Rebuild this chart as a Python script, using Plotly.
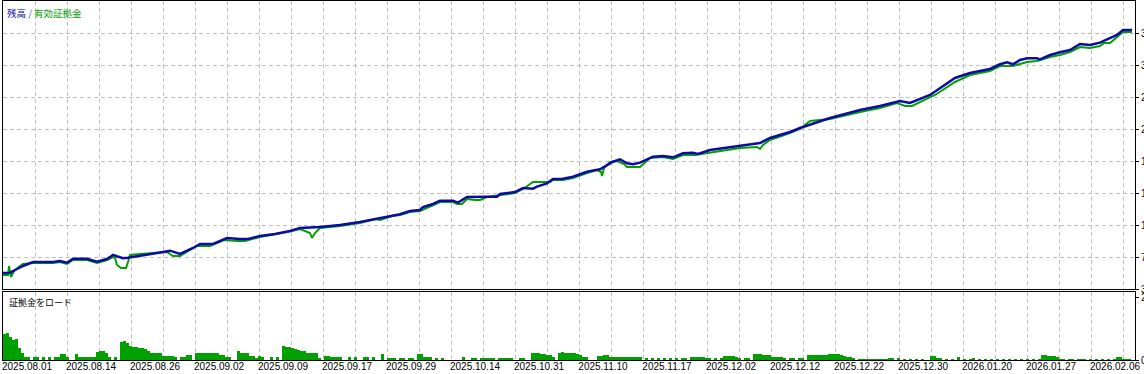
import plotly.graph_objects as go

# ---------------- data ----------------
date_labels = ["2025.08.01", "2025.08.14", "2025.08.26", "2025.09.02", "2025.09.09",
               "2025.09.17", "2025.09.29", "2025.10.14", "2025.10.31", "2025.11.10",
               "2025.11.17", "2025.12.02", "2025.12.12", "2025.12.22", "2025.12.30",
               "2026.01.20", "2026.01.27", "2026.02.06"]

balance_idx = [0, 7, 14, 20, 30, 40, 50, 57, 64, 70, 84, 94, 104, 110, 120, 125, 137, 154, 167, 177,
               190, 197, 210, 224, 237, 245, 257, 272, 287, 297, 317, 337, 357, 377, 392, 397, 407, 417,
               420, 430, 437, 450, 455, 464, 484, 494, 497, 512, 520, 530, 534, 544, 550, 560, 570, 584,
               597, 604, 610, 617, 624, 630, 637, 650, 660, 670, 680, 690, 695, 707, 737, 757, 767, 787,
               797, 827, 857, 877, 897, 907, 927, 952, 967, 987, 997, 1004, 1010, 1017, 1024, 1034, 1037,
               1047, 1057, 1067, 1077, 1087, 1097, 1104, 1114, 1120, 1129]
balance = [5000, 5040, 5500, 5875, 6375, 6375, 6375, 6500, 6290, 6790, 6790, 6410, 6750, 7250, 6840, 6910,
           7125, 7500, 7790, 7375, 8125, 8625, 8625, 9375, 9250, 9250, 9625, 9875, 10250, 10625, 10750,
           11000, 11375, 11875, 12250, 12340, 12750, 12875, 13250, 13625, 14040, 14040, 13790, 14500,
           14540, 14540, 14875, 15125, 15625, 15540, 15790, 16210, 16750, 16790, 17040, 17660, 17960,
           18500, 18910, 19210, 18710, 18590, 18790, 19540, 19625, 19460, 19960, 20040, 19875, 20375,
           20875, 21250, 21875, 22625, 23125, 24375, 25375, 25875, 26500, 26250, 27250, 29375, 30000,
           30500, 31090, 31340, 31090, 31625, 31840, 31840, 31710, 32250, 32590, 32875, 33625, 33500,
           33790, 34210, 34750, 35375, 35375]

equity_idx = [0, 5, 6, 8, 11, 14, 17, 20, 30, 50, 57, 64, 70, 84, 94, 104, 110, 112, 114, 118, 123, 125,
              127, 137, 151, 164, 170, 177, 187, 194, 207, 221, 234, 242, 257, 269, 284, 297, 307, 309,
              312, 317, 337, 357, 372, 377, 389, 397, 407, 417, 430, 437, 450, 454, 459, 464, 472, 477,
              484, 497, 512, 520, 530, 547, 550, 560, 570, 584, 594, 598, 599, 601, 607, 614, 621, 624,
              637, 647, 660, 670, 680, 692, 737, 754, 757, 760, 767, 787, 797, 807, 827, 857, 877, 894,
              902, 909, 927, 932, 952, 967, 987, 997, 1010, 1024, 1034, 1047, 1057, 1067, 1077, 1087,
              1097, 1101, 1107, 1114, 1120, 1129]
equity = [4750, 4750, 5875, 4500, 5250, 5625, 5875, 6125, 6250, 6250, 6375, 6125, 6625, 6625, 6250, 6625,
          7000, 6875, 6000, 5625, 5625, 6375, 7250, 7375, 7500, 7625, 7125, 7125, 7875, 8375, 8375, 9125,
          9000, 9000, 9500, 9750, 10125, 10500, 10000, 9375, 10000, 10625, 10875, 11250, 11750, 11625,
          12125, 12250, 12625, 12750, 13500, 13875, 13875, 13625, 13625, 14250, 14125, 14125, 14500,
          14750, 15000, 15500, 16375, 16375, 16625, 16625, 16875, 17500, 17875, 17625, 17125, 18125,
          18875, 19000, 18625, 18250, 18250, 19375, 19500, 19250, 19750, 19750, 20625, 20750, 20500,
          21000, 21625, 22500, 23000, 24000, 24250, 25125, 25625, 26250, 25875, 25875, 27000, 27250,
          28875, 29750, 30250, 30875, 30875, 31375, 31500, 32000, 32250, 32625, 33250, 33125, 33375,
          33750, 33750, 34500, 35125, 35125]

# margin load (%) per time slot
margin_load = [
    8.7, 9.0, 7.7, 6.7, 7.0, 4.0, 2.3, 1.0, 1.0, 0,
    1.0, 1.0, 0, 1.0, 0, 1.0, 0, 1.0, 1.0, 2.0,
    2.0, 1.0, 0, 0, 2.0, 1.0, 1.0, 1.0, 1.0, 1.0,
    1.0, 2.7, 3.0, 3.0, 2.3, 1.0, 0, 1.0, 0, 6.0,
    6.3, 5.7, 4.7, 4.3, 4.3, 4.0, 4.0, 3.7, 3.0, 2.3,
    2.3, 2.3, 2.3, 1.3, 1.3, 1.3, 1.3, 1.0, 0, 1.0,
    1.0, 1.7, 1.7, 0, 2.3, 2.3, 2.3, 2.3, 2.3, 2.3,
    2.3, 2.3, 1.7, 1.7, 1.0, 1.0, 0, 0, 3.0, 2.3,
    2.3, 2.3, 1.3, 1.3, 0.7, 1.3, 1.0, 0, 0, 1.0,
    0, 1.0, 0, 4.7, 4.3, 4.3, 4.0, 3.7, 3.3, 3.0,
    3.0, 2.3, 2.3, 2.3, 2.3, 0.7, 0, 1.3, 1.3, 1.0,
    1.0, 1.0, 1.0, 0, 0, 1.0, 0, 1.0, 0, 0,
    1.0, 1.0, 0, 1.0, 0, 0, 2.0, 0, 0.7, 0.7,
    0.7, 0, 0.7, 0.7, 0, 0.7, 0.7, 0, 2.0, 2.0,
    1.0, 1.0, 1.0, 0, 0.7, 0, 0.7, 0, 0, 0,
    0, 0, 0, 1.0, 0, 0, 0.7, 0.7, 0, 0.7,
    0.7, 0.7, 0.7, 0.7, 0, 0.7, 0.7, 0.7, 0.7, 0.7,
    0, 0, 0.7, 0.7, 0, 0, 2.3, 2.3, 2.3, 2.0,
    2.0, 1.7, 1.7, 1.0, 0, 2.3, 2.7, 2.3, 2.3, 2.3,
    2.3, 2.0, 1.7, 1.0, 1.0, 0, 0, 0, 1.3, 1.3,
    1.7, 1.7, 1.0, 1.0, 1.0, 1.0, 1.0, 1.0, 1.0, 1.0,
    1.0, 1.0, 1.0, 0, 0.7, 0, 0.7, 0, 0.7, 0,
    0.7, 0, 0.7, 0, 0.7, 0, 0.7, 0.7, 0, 1.0,
    1.0, 1.0, 1.0, 1.0, 0.7, 0.7, 0, 0.7, 0, 0.7,
    1.3, 1.3, 1.3, 1.3, 1.0, 0.7, 0, 0.7, 0.7, 0,
    2.0, 2.0, 2.0, 1.7, 1.7, 1.7, 1.0, 1.0, 1.0, 1.0,
    0.7, 0, 0.7, 0.7, 0, 0.7, 0.7, 0, 1.7, 1.7,
    1.7, 1.7, 1.7, 1.7, 1.7, 2.0, 2.0, 2.0, 2.0, 1.7,
    1.3, 1.0, 1.0, 0.7, 0, 0.3, 0.3, 0.3, 0.3, 0.3,
    0.3, 0.3, 0.3, 0.3, 0.3, 0.7, 0.7, 0, 0.7, 0,
    0.3, 0, 0.3, 0, 0.3, 0, 0.3, 0, 0, 1.3,
    1.3, 0.7, 0.7, 0, 0.3, 0, 0.3, 0, 1.0, 0,
    0.3, 0, 0.3, 0.7, 0, 0.3, 0, 0.3, 0, 0.3,
    0, 0.3, 0, 0.3, 0, 0.3, 0, 0.3, 0, 0.3,
    0, 0.3, 0, 0.3, 0, 0.3, 1.7, 1.7, 1.3, 1.3,
    1.3, 1.0, 0.3, 0.3, 0, 0.3, 0.3, 0, 0.3, 0.3,
    0.3, 0, 0.3, 0, 0.3, 0, 0.3, 0, 0.3, 0,
    0.3, 1.0, 1.0, 0.3, 0.3, 0.3, 0,
]

equity_ticks = [3000, 7000, 11000, 15000, 19000, 23000, 27000, 31000, 35000]

# ---------------- figure ----------------
BLUE = "#0c0ca4"
GREEN = "#00a000"
GRID = "#c0c0c0"
SLOT = 3
load_idx = [SLOT * i + SLOT / 2 for i in range(len(margin_load))]

fig = go.Figure()
fig.add_trace(go.Bar(x=load_idx, y=margin_load, width=SLOT, marker=dict(color=GREEN, line=dict(width=0)),
                     xaxis="x", yaxis="y", showlegend=False, hoverinfo="skip"))
fig.add_trace(go.Scatter(x=equity_idx, y=equity, mode="lines", line=dict(color=GREEN, width=2),
                         xaxis="x2", yaxis="y2", showlegend=False))
fig.add_trace(go.Scatter(x=balance_idx, y=balance, mode="lines", line=dict(color=BLUE, width=2.5),
                         xaxis="x2", yaxis="y2", showlegend=False))

grid_step = 32
grid_vals = [grid_step * k for k in range(1, 2 * len(date_labels))]
grid_text = [date_labels[(k - 1) // 2] if k % 2 == 1 else "" for k in range(1, 2 * len(date_labels))]

xr = [0, 1132]
axis_font = dict(family="Liberation Sans, Arial", size=10, color="#000000")
common_x = dict(range=xr, showgrid=True, gridcolor=GRID, griddash="4px,3px", gridwidth=1,
                showline=True, linecolor="#000000", linewidth=1, mirror=True, zeroline=False,
                tickvals=grid_vals, ticktext=grid_text, fixedrange=True)

fig.update_layout(
    width=1144, height=374,
    margin=dict(l=3, r=9, t=1, b=14, pad=0),
    paper_bgcolor="#ffffff", plot_bgcolor="#ffffff",
    bargap=0, showlegend=False,
    font=axis_font,
    xaxis=dict(**common_x, anchor="y", ticks="", tickfont=axis_font, ticklabelshift=-8,
               ticklabelstandoff=-3, automargin=False),
    xaxis2=dict(**common_x, anchor="y2", showticklabels=False, ticks="", matches="x"),
    yaxis=dict(domain=[0, 68 / 359], range=[0, 23], side="right", showgrid=False, zeroline=False,
               showline=True, linecolor="#000000", linewidth=1, mirror=True,
               tickvals=[0, 21], ticktext=["0.00", "21.00"], ticks="outside", ticklen=3,
               tickcolor="#000000", tickfont=axis_font, automargin=False, fixedrange=True),
    yaxis2=dict(domain=[71 / 359, 1], range=[3000, 39000], side="right", showgrid=True, gridcolor=GRID,
                griddash="4px,3px", gridwidth=1, zeroline=False,
                showline=True, linecolor="#000000", linewidth=1, mirror=True,
                tickvals=equity_ticks, ticktext=[f"{v:,}".replace(",", " ") for v in equity_ticks],
                ticks="outside", ticklen=3, tickcolor="#000000", tickfont=axis_font,
                automargin=False, fixedrange=True),
    annotations=[
        dict(text="<span style='color:#0c0ca4'>残高</span><span style='color:#3060c0'> / </span>"
                  "<span style='color:#00a000'>有効証拠金</span>",
             xref="paper", yref="paper", x=0.0015, y=0.993, xanchor="left", yanchor="top",
             showarrow=False, font=dict(family="Noto Sans CJK JP", size=9.5)),
        dict(text="証拠金をロード", xref="paper", yref="paper", x=0.0035, y=0.183,
             xanchor="left", yanchor="top", showarrow=False,
             font=dict(family="Noto Sans CJK JP", size=9, color="#000000")),
    ],
)

fig.write_html("out.html")
